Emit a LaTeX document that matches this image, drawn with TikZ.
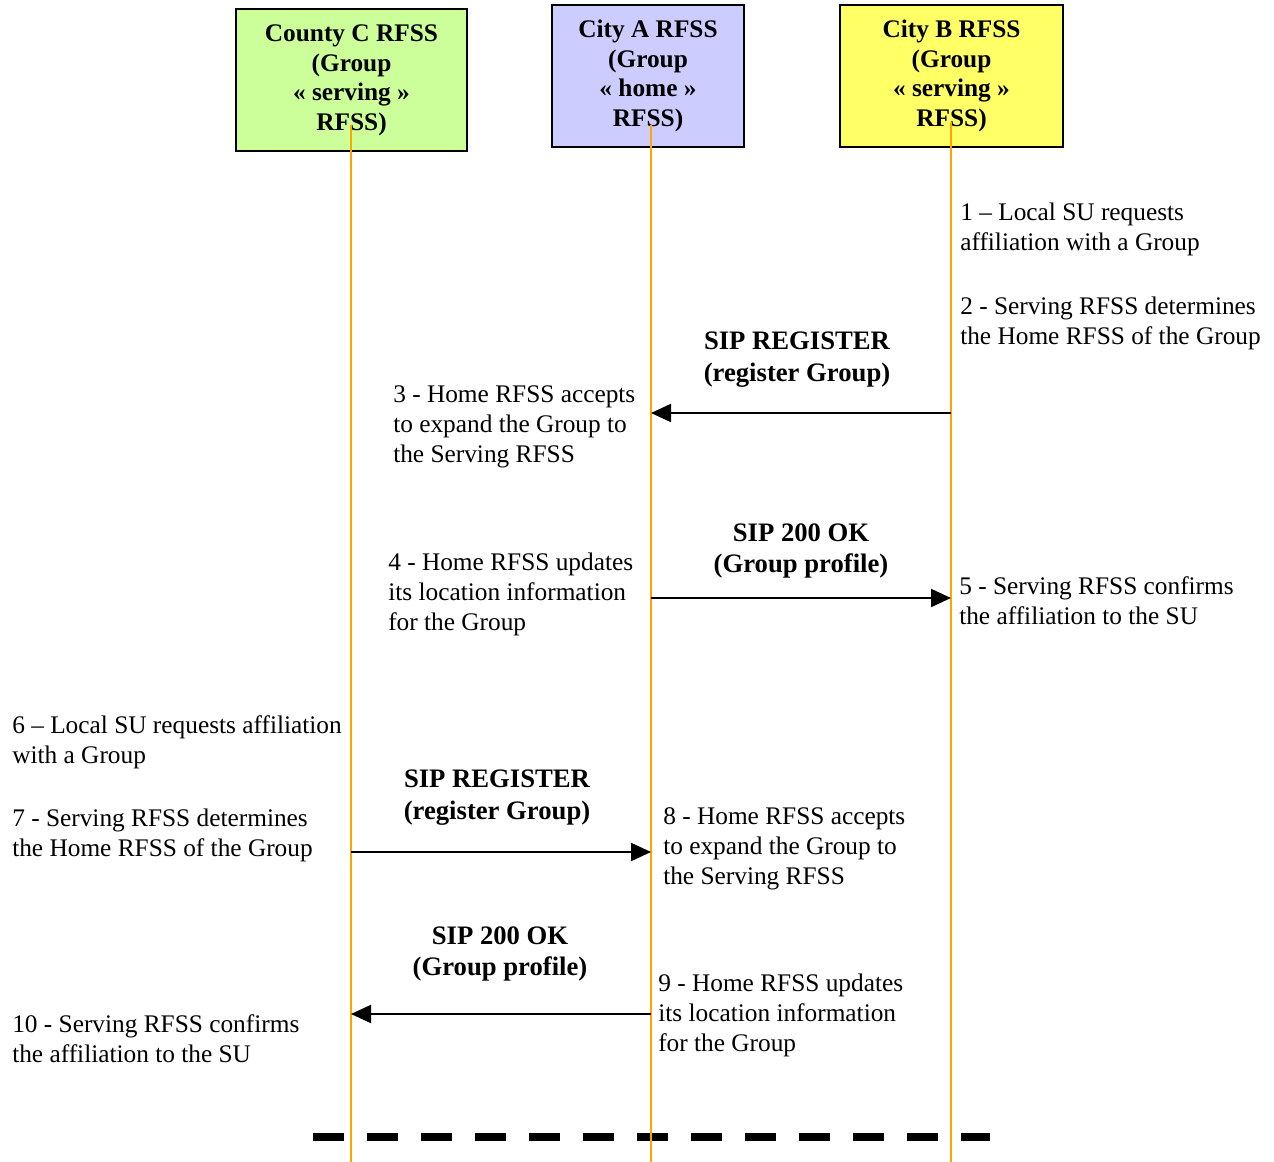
\documentclass[tikz,border=0pt]{standalone}
\usepackage{fontspec}
\setmainfont{Liberation Serif}
\usetikzlibrary{arrows.meta}
\definecolor{lifeor}{RGB}{255,165,0}
\definecolor{boxgreen}{RGB}{204,255,153}
\definecolor{boxblue}{RGB}{204,204,255}
\definecolor{boxyellow}{RGB}{255,255,102}
\begin{document}
\begin{tikzpicture}[x=0.75pt,y=-0.75pt,
  rfss/.style={draw=black,line width=1.5pt,minimum height=106.5pt,inner sep=0pt,align=center,font=\fontsize{19}{22.2}\selectfont\bfseries},
  note/.style={anchor=north west,align=left,inner sep=0pt,font=\fontsize{19}{22.5}\selectfont},
  siplabel/.style={anchor=north,align=center,inner sep=0pt,font=\fontsize{20}{23.5}\selectfont\bfseries},
  lifeline/.style={draw=lifeor,line width=1.5pt},
  msg/.style={draw=black,line width=1.5pt,-{Triangle[length=15pt,width=13.5pt]}},
  endbar/.style={draw=black,line width=6pt,dash pattern=on 23.25pt off 17.25pt}]
\useasboundingbox (0,0) rectangle (1274,1162);
% boxes
\node[rfss,fill=boxgreen,minimum width=173.25pt] (cC) at (351.5,80.5) {County C RFSS\\(Group\\« serving »\\RFSS)};
\node[rfss,fill=boxblue,minimum width=144pt] (cA) at (648,76) {City A RFSS\\(Group\\« home »\\RFSS)};
\node[rfss,fill=boxyellow,minimum width=167.25pt] (cB) at (951.5,76) {City B RFSS\\(Group\\« serving »\\RFSS)};
% end bar
\coordinate (e1) at (313,1137);
\coordinate (e2) at (990,1137);
\draw[endbar] (e1) -- (e2);
% lifelines
\coordinate (lCt) at (351,125); \coordinate (lCb) at (351,1162);
\coordinate (lAt) at (651,125); \coordinate (lAb) at (651,1162);
\coordinate (lBt) at (951,122); \coordinate (lBb) at (951,1162);
\draw[lifeline] (lCt) -- (lCb);
\draw[lifeline] (lAt) -- (lAb);
\draw[lifeline] (lBt) -- (lBb);
% message points
\coordinate (m1s) at (951,413); \coordinate (m1e) at (651,413);
\coordinate (m2s) at (651,598); \coordinate (m2e) at (951,598);
\coordinate (m3s) at (351,852); \coordinate (m3e) at (651,852);
\coordinate (m4s) at (651,1014); \coordinate (m4e) at (351,1014);
\draw[msg] (m1s) -- (m1e);
\draw[msg] (m2s) -- (m2e);
\draw[msg] (m3s) -- (m3e);
\draw[msg] (m4s) -- (m4e);
% message labels
\node[siplabel] (s1) at (797,332) {SIP REGISTER\\(register Group)};
\node[siplabel] (s2) at (801,523) {SIP 200 OK\\(Group profile)};
\node[siplabel] (s3) at (497,770) {SIP REGISTER\\(register Group)};
\node[siplabel] (s4) at (500,926) {SIP 200 OK\\(Group profile)};
% notes
\node[note] (t1) at (960,203) {1 – Local SU requests\\affiliation with a Group};
\node[note] (t2) at (960,297) {2 - Serving RFSS determines\\the Home RFSS of the Group};
\node[note] (t3) at (393,385) {3 - Home RFSS accepts\\to expand the Group to\\the Serving RFSS};
\node[note] (t4) at (388,553) {4 - Home RFSS updates\\its location information\\for the Group};
\node[note] (t5) at (959,576) {5 - Serving RFSS confirms\\the affiliation to the SU};
\node[note] (t6) at (12,715) {6 – Local SU requests affiliation\\with a Group};
\node[note] (t7) at (12,809) {7 - Serving RFSS determines\\the Home RFSS of the Group};
\node[note] (t8) at (663,807) {8 - Home RFSS accepts\\to expand the Group to\\the Serving RFSS};
\node[note] (t9) at (658,974) {9 - Home RFSS updates\\its location information\\for the Group};
\node[note] (t10) at (12,1014) {10 - Serving RFSS confirms\\the affiliation to the SU};
\end{tikzpicture}
\end{document}
